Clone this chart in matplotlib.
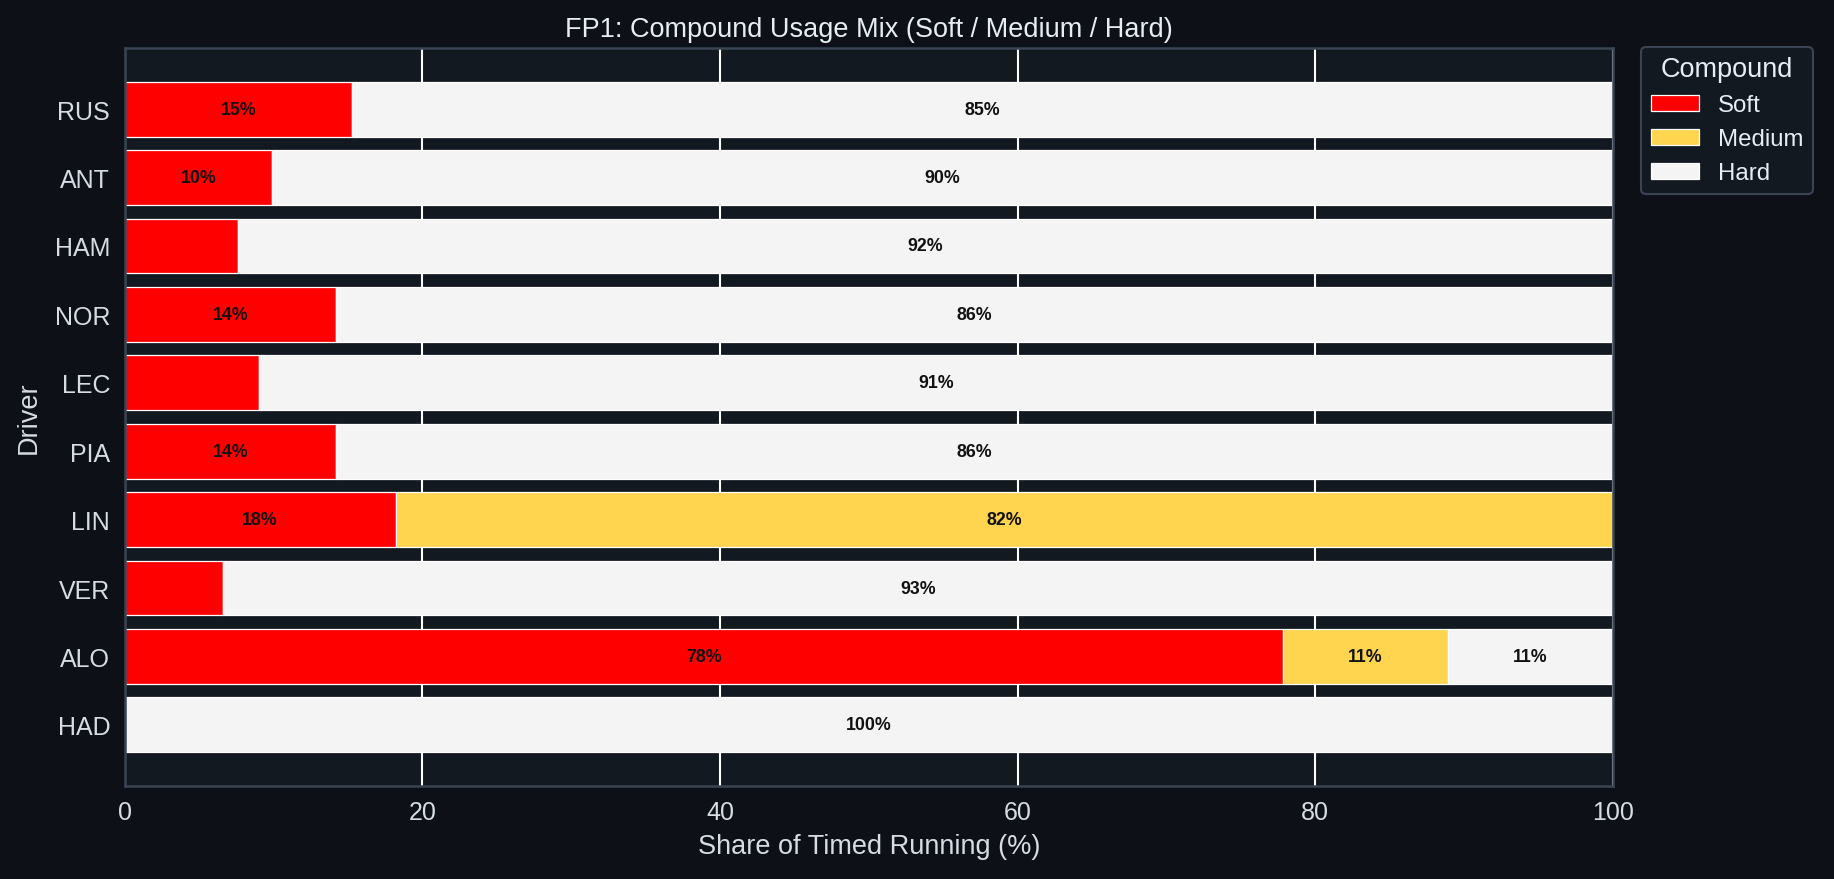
import numpy as np
import matplotlib.pyplot as plt
from matplotlib.patches import Patch

plt.rcParams['font.family'] = ['Liberation Sans', 'DejaVu Sans']

FIG_BG = "#0d1117"
AX_BG = "#131921"
SPINE = "#3a4453"
TEXT = "#e6edf3"
TICK_TEXT = "#d5dce4"

drivers = ["RUS", "ANT", "HAM", "NOR", "LEC", "PIA", "LIN", "VER", "ALO", "HAD"]
soft = [15.3, 9.9, 7.6, 14.2, 9.0, 14.2, 18.2, 6.6, 77.8, 0.0]
medium = [0.0, 0.0, 0.0, 0.0, 0.0, 0.0, 81.8, 0.0, 11.1, 0.0]
hard = [84.7, 90.1, 92.4, 85.8, 91.0, 85.8, 0.0, 93.4, 11.1, 100.0]

compounds = ["Soft", "Medium", "Hard"]
colors = {"Soft": "#ff0000", "Medium": "#ffd44f", "Hard": "#f4f4f4"}


def main():
    fig, ax = plt.subplots(figsize=(1834 / 150, 880 / 150), dpi=150)
    fig.patch.set_facecolor(FIG_BG)
    ax.set_facecolor(AX_BG)
    fig.subplots_adjust(left=0.068, right=0.8795, top=0.944, bottom=0.106)

    y = np.arange(len(drivers))
    left = np.zeros(len(drivers))
    for name, vals in zip(compounds, [soft, medium, hard]):
        vals = np.array(vals)
        bars = ax.barh(y, vals, left=left, height=0.8, color=colors[name],
                       edgecolor="white", linewidth=0.6, label=name, zorder=2)
        for b, v in zip(bars, vals):
            if v >= 9.5:
                ax.text(b.get_x() + b.get_width() / 2, b.get_y() + b.get_height() / 2,
                        f"{v:.0f}%", ha="center", va="center", fontsize=8.5,
                        fontweight="bold", color="#111111", zorder=3)
        left += vals

    ax.set_yticks(y)
    ax.set_yticklabels(drivers)
    ax.invert_yaxis()
    ax.set_xlim(0, 100)
    ax.set_xticks([0, 20, 40, 60, 80, 100])

    ax.grid(axis="x", color="white", linewidth=1.0, zorder=0)
    ax.grid(axis="y", visible=False)
    ax.set_axisbelow(True)

    for s in ax.spines.values():
        s.set_color(SPINE)
        s.set_linewidth(1.2)
    ax.tick_params(colors=TICK_TEXT, labelsize=12, length=0, pad=7)

    ax.set_title("FP1: Compound Usage Mix (Soft / Medium / Hard)", color=TEXT, fontsize=13, pad=6)
    ax.set_xlabel("Share of Timed Running (%)", color=TICK_TEXT, fontsize=13)
    ax.set_ylabel("Driver", color=TICK_TEXT, fontsize=13, labelpad=6)

    handles = [Patch(facecolor=colors[c], edgecolor="white", linewidth=0.6, label=c) for c in compounds]
    leg = ax.legend(handles=handles, title="Compound", loc="upper left",
                    bbox_to_anchor=(1.019, 1.002), borderaxespad=0, fontsize=11.5,
                    title_fontsize=13, facecolor=AX_BG, edgecolor=SPINE,
                    labelcolor=TEXT, framealpha=1)
    leg.get_title().set_color(TEXT)

    fig.savefig("out.png", dpi=150, facecolor=FIG_BG)


main()
